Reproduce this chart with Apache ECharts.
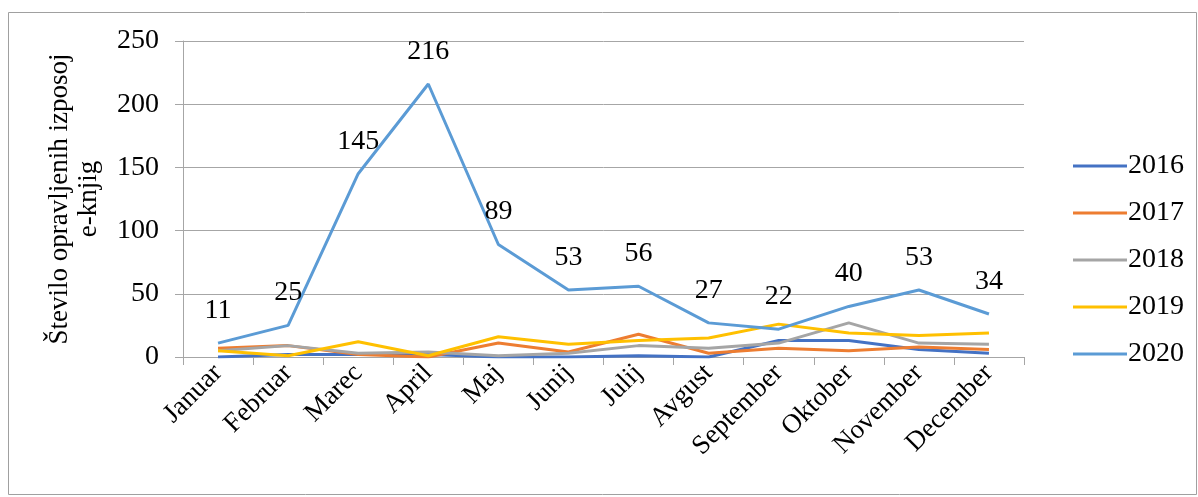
<!DOCTYPE html>
<html>
<head>
<meta charset="utf-8">
<script src="https://cdn.jsdelivr.net/npm/echarts@6/dist/echarts.min.js"></script>
<style>
  html, body { margin: 0; padding: 0; background: #fff; }
  #chart { width: 1198px; height: 497px; }
</style>
</head>
<body>
<div id="chart"></div>
<script>
  // podatki
  const months = ['Januar', 'Februar', 'Marec', 'April', 'Maj', 'Junij', 'Julij', 'Avgust', 'September', 'Oktober', 'November', 'December'];
  const y2016 = [0, 2, 2, 2, 0, 0, 1, 0, 13, 13, 6, 3];
  const y2017 = [7, 9, 2, 0, 11, 4, 18, 3, 7, 5, 8, 6];
  const y2018 = [5, 9, 3, 4, 1, 3, 9, 7, 11, 27, 11, 10];
  const y2019 = [5, 1, 12, 1, 16, 10, 13, 15, 26, 19, 17, 19];
  const y2020 = [11, 25, 145, 216, 89, 53, 56, 27, 22, 40, 53, 34];
  const years = ['2016', '2017', '2018', '2019', '2020'];
  const yTicks = [0, 50, 100, 150, 200, 250];

  const FONT = '"Liberation Serif", "Times New Roman", serif';
  const gridColor = '#a6a6a6';
  const colors = ['#4472c4', '#ed7d31', '#a5a5a5', '#ffc000', '#5b9bd5'];

  const chart = echarts.init(document.getElementById('chart'));

  function line(name, data, color, labels) {
    return {
      name: name,
      type: 'line',
      data: data,
      symbol: labels ? 'circle' : 'none',
      symbolSize: 1,
      showSymbol: labels,
      lineStyle: { color: color, width: 3 },
      itemStyle: { color: labels ? 'rgba(0,0,0,0)' : color },
      label: labels ? {
        show: true,
        position: 'top',
        distance: 18,
        color: '#000',
        fontFamily: FONT,
        fontSize: 28
      } : { show: false },
      z: labels ? 5 : 3
    };
  }

  const option = {
    animation: false,
    backgroundColor: '#fff',
    color: colors,
    graphic: [{
      type: 'rect',
      shape: { x: 8.5, y: 12.5, width: 1188, height: 482 },
      style: { fill: 'none', stroke: '#a0a0a0', lineWidth: 1 },
      silent: true
    }],
    grid: { left: 183, right: 174, top: 41, bottom: 140 },
    legend: {
      orient: 'vertical',
      left: 1068,
      top: 146,
      itemGap: 17,
      itemWidth: 54,
      itemHeight: 3,
      icon: 'rect',
      textStyle: { color: '#000', fontFamily: FONT, fontSize: 28, lineHeight: 30, padding: [0, 0, 0, -4] },
      data: years.map((y, i) => ({ name: y, itemStyle: { color: colors[i] } }))
    },
    xAxis: {
      type: 'category',
      data: months,
      boundaryGap: true,
      axisLine: { show: true, lineStyle: { color: gridColor, width: 1 } },
      axisTick: { show: true, length: 8, lineStyle: { color: gridColor } },
      axisLabel: {
        rotate: 45,
        interval: 0,
        margin: 12,
        color: '#000',
        fontFamily: FONT,
        fontSize: 27
      },
      splitLine: { show: false }
    },
    yAxis: {
      type: 'value',
      min: yTicks[0],
      max: yTicks[yTicks.length - 1],
      interval: 50,
      name: 'Število opravljenih izposoj\ne-knjig',
      nameLocation: 'middle',
      nameGap: 80,
      nameRotate: 90,
      nameTextStyle: { color: '#000', fontFamily: FONT, fontSize: 27, lineHeight: 29, align: 'center' },
      axisLine: { show: true, lineStyle: { color: gridColor, width: 1 } },
      axisTick: { show: true, length: 8, lineStyle: { color: gridColor } },
      axisLabel: { color: '#000', fontFamily: FONT, fontSize: 28, margin: 24 },
      splitLine: { show: true, lineStyle: { color: gridColor, width: 1 } }
    },
    series: [
      line(years[0], y2016, colors[0], false),
      line(years[1], y2017, colors[1], false),
      line(years[2], y2018, colors[2], false),
      line(years[3], y2019, colors[3], false),
      line(years[4], y2020, colors[4], true)
    ]
  };

  chart.setOption(option);
</script>
</body>
</html>
